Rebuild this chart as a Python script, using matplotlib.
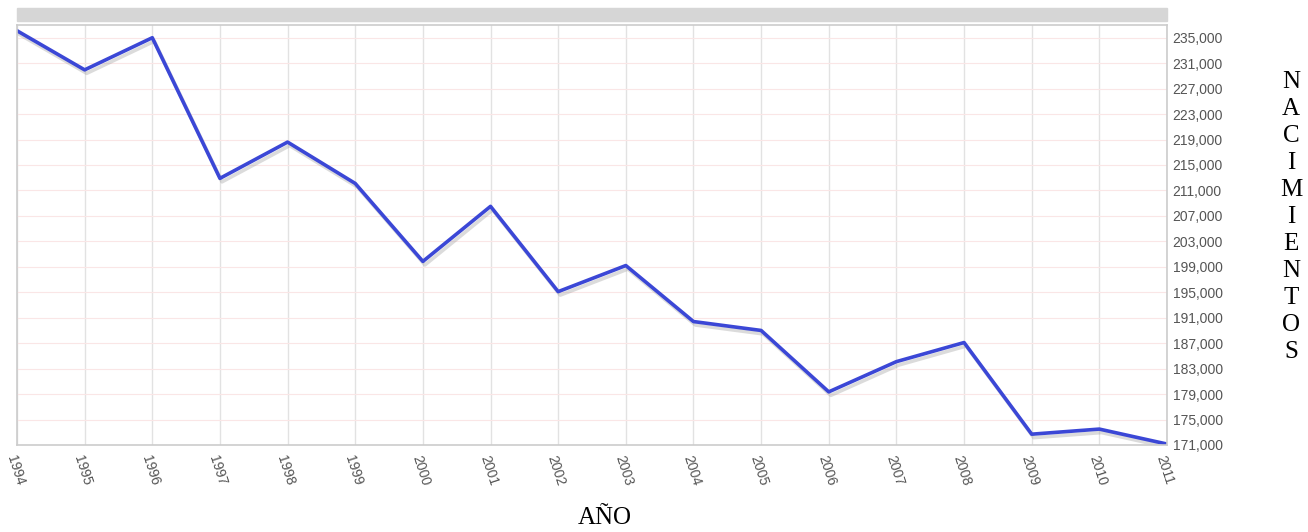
import matplotlib
matplotlib.use("Agg")
import matplotlib.pyplot as plt
import matplotlib.patheffects as pe
from matplotlib.patches import Rectangle
from matplotlib.ticker import FuncFormatter

# datos: nacimientos por año
anios = [1994, 1995, 1996, 1997, 1998, 1999, 2000, 2001, 2002,
         2003, 2004, 2005, 2006, 2007, 2008, 2009, 2010, 2011]
nacimientos = [236100, 229950, 235000, 212900, 218600, 212100, 199850, 208500, 195100,
               199200, 190400, 189000, 179350, 184100, 187100, 172700, 173500, 171150]
ticks_y = list(range(171000, 236000, 4000))

fig = plt.figure(figsize=(13.08, 5.32), dpi=100)
ax = fig.add_axes([17 / 1308, 1 - 445 / 532, 1150 / 1308, 420 / 532])

ax.plot(anios, nacimientos, color="#3b47d6", lw=2.6,
        path_effects=[pe.SimpleLineShadow(offset=(1.5, -2.5), shadow_color="#999999", alpha=0.35),
                      pe.Normal()])

ax.set_xlim(1994, 2011)
ax.set_ylim(171000, 237000)
ax.set_xticks(anios)
ax.set_yticks(ticks_y)
ax.yaxis.set_major_formatter(FuncFormatter(lambda v, p: f"{int(v):,}"))
ax.yaxis.tick_right()

ax.grid(axis="x", color="#e2e2e2", lw=1)
ax.grid(axis="y", color="#fae6e6", lw=0.8)
ax.set_axisbelow(True)

ax.tick_params(length=0, colors="#555555", labelsize=10)
ax.tick_params(axis="y", pad=4)
ax.tick_params(axis="x", pad=6)
for lbl in ax.get_xticklabels():
    lbl.set_family("Liberation Sans")
    lbl.set_rotation(-72)
    lbl.set_ha("left")
    lbl.set_va("top")
    lbl.set_rotation_mode("anchor")
for lbl in ax.get_yticklabels():
    lbl.set_family("Liberation Sans")
for s in ax.spines.values():
    s.set_color("#cccccc")
    s.set_linewidth(1.2)

# barra gris superior (título recortado)
fig.patches.append(Rectangle((17 / 1308, 1 - 21 / 532), 1150 / 1308, 13 / 532,
                             transform=fig.transFigure, color="#d6d6d6", zorder=0))

# etiquetas de ejes
fig.text(605 / 1308, 1 - 518 / 532, "AÑO", family="Liberation Serif", fontsize=18,
         ha="center", va="center")
for i, letra in enumerate("NACIMIENTOS"):
    fig.text(1291 / 1308, 1 - (82 + i * 27) / 532, letra, family="Liberation Serif",
             fontsize=18, ha="center", va="center")

fig.savefig("out.png", dpi=100)
